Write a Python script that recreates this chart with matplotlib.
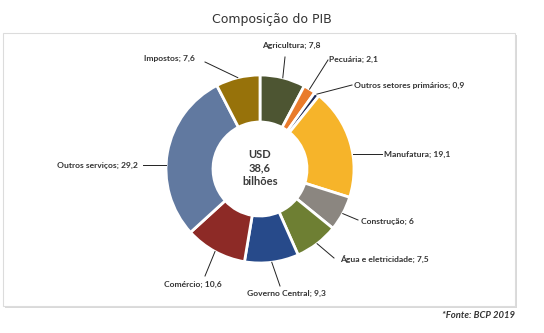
import numpy as np
import matplotlib
matplotlib.use('Agg')
import matplotlib.pyplot as plt
from matplotlib.patches import Rectangle

plt.rcParams['font.family'] = ['Lato', 'DejaVu Sans']

# dados
setores = ['Agricultura', 'Pecuária', 'Outros setores primários', 'Manufatura',
           'Construção', 'Água e eletricidade', 'Governo Central', 'Comércio',
           'Outros serviços', 'Impostos']
valores = [7.8, 2.1, 0.9, 19.1, 6, 7.5, 9.3, 10.6, 29.2, 7.6]
rotulos = ['7,8', '2,1', '0,9', '19,1', '6', '7,5', '9,3', '10,6', '29,2', '7,6']
cores = ['#4d5532', '#e97b2c', '#1e2b55', '#f6b42a', '#8b8680',
         '#6e7f33', '#274a8a', '#8d2a26', '#6179a0', '#97720a']

W, H = 544, 333
fig = plt.figure(figsize=(W / 100, H / 100), dpi=100)
ax = fig.add_axes([0, 0, 1, 1])

cx, cy, R = 260, 169, 94

# caixa com sombra
ax.add_patch(Rectangle((5, 35), 512, 273, facecolor='#d9d9d9', edgecolor='none',
                       zorder=0))
ax.add_patch(Rectangle((3, 33), 512, 273, facecolor='white', edgecolor='#dcdcdc',
                       linewidth=0.8, zorder=1))

wedges, _ = ax.pie(valores, colors=cores, startangle=-90, counterclock=True,
                   center=(cx, cy), radius=R,
                   wedgeprops=dict(width=R * 0.5, edgecolor='white',
                                   linewidth=2))
for w in wedges:
    w.set_zorder(2)

ax.set_xlim(0, W)
ax.set_ylim(H, 0)
ax.set_aspect('equal')
ax.axis('off')

# posição dos rótulos (pixels): texto x, y, alinhamento, ponto final da linha,
# 'h' = linha horizontal
layout = [
    (291, 45, 'center', (285, 57), None),
    (329, 59, 'left', (328, 60), None),
    (354, 85, 'left', (352, 85), None),
    (384, 154, 'left', (382, 154), 'h'),
    (361, 221, 'left', (358, 220), None),
    (340, 259, 'left', (334, 258), None),
    (286, 293, 'center', (280, 286), None),
    (193, 284, 'center', (205, 276), None),
    (138, 165, 'right', (143, 165), 'h'),
    (169, 58, 'center', (205, 62), None),
]

for w, nome, rot, (tx, ty, ha, fim, modo) in zip(wedges, setores, rotulos, layout):
    if modo == 'h':
        dy = fim[1] - cy
        dx = np.sqrt(R ** 2 - dy ** 2) * np.sign(fim[0] - cx)
        ini = (cx + dx, fim[1])
    else:
        ang = np.deg2rad((w.theta1 + w.theta2) / 2)
        ini = (cx + R * np.cos(ang), cy + R * np.sin(ang))
    ax.plot([ini[0], fim[0]], [ini[1], fim[1]], color='#222222', lw=0.7,
            zorder=3)
    ax.text(tx, ty, f'{nome}; {rot}', ha=ha, va='center', fontsize=6.1,
            fontweight='bold', color='#333333', zorder=4)

ax.text(cx, cy - 1, 'USD\n38,6\nbilhões', ha='center', va='center',
        fontsize=8, fontweight='bold', color='#3a3a3a',
        linespacing=1.3, zorder=4)

ax.text(272, 20, 'Composição do PIB', ha='center', va='center', fontsize=9,
        color='#333333', family=['DejaVu Sans'])
ax.text(515, 315, '*Fonte: BCP 2019', ha='right', va='center', fontsize=6.8,
        fontstyle='italic', fontweight='bold', color='#333333')

fig.savefig('out.png', dpi=100)
